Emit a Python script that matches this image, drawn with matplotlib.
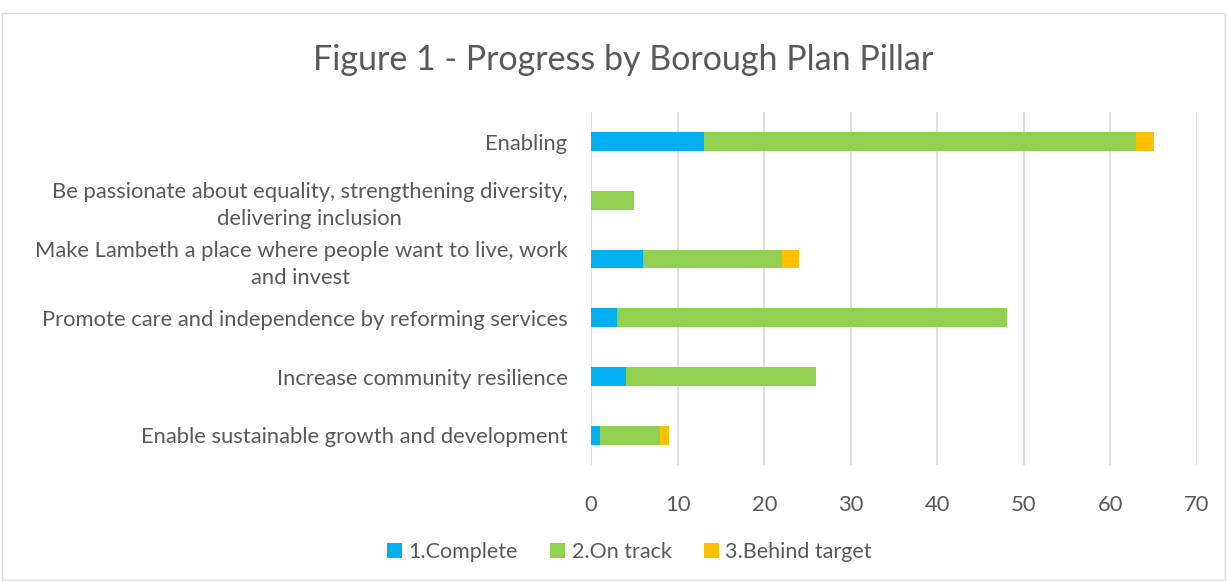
import matplotlib.pyplot as plt
import numpy as np

plt.rcParams['font.family'] = ['Lato', 'DejaVu Sans']

pillars = [
    'Enable sustainable growth and development',
    'Increase community resilience',
    'Promote care and independence by reforming services',
    'Make Lambeth a place where people want to live, work\nand invest',
    'Be passionate about equality, strengthening diversity,\ndelivering inclusion',
    'Enabling',
]
complete = [1, 4, 3, 6, 0, 13]
on_track = [7, 22, 45, 16, 5, 50]
behind = [1, 0, 0, 2, 0, 2]

grey = '#595959'
fig = plt.figure(figsize=(12.27, 5.81), dpi=100)
ax = fig.add_axes([0.4817, 0.2, 0.4939, 0.607])

y = np.arange(len(pillars))
h = 0.32
ax.barh(y, complete, h, color='#00B0F0', label='1.Complete')
ax.barh(y, on_track, h, left=complete, color='#92D050', label='2.On track')
left2 = np.array(complete) + np.array(on_track)
ax.barh(y, behind, h, left=left2, color='#FFC000', label='3.Behind target')

ax.set_xlim(0, 70)
ax.set_ylim(-0.5, len(pillars) - 0.5)
ax.set_xticks(range(0, 71, 10))
ax.set_yticks(y)
ax.set_yticklabels(pillars, multialignment='center', linespacing=1.45)
ax.tick_params(axis='both', length=0, labelsize=15.8, colors=grey)
ax.tick_params(axis='y', pad=17)
ax.tick_params(axis='x', pad=22)
ax.grid(axis='x', color='#D9D9D9', linewidth=1.2)
ax.set_axisbelow(True)
for s in ax.spines.values():
    s.set_visible(False)

fig.suptitle('Figure 1 - Progress by Borough Plan Pillar', x=0.508, y=0.925,
             fontsize=24.5, color=grey)
fig.legend(loc='lower center', ncol=3, frameon=False, fontsize=15.5,
           bbox_to_anchor=(0.513, 0.0), handlelength=0.7, handleheight=0.7,
           columnspacing=1.5, handletextpad=0.3, labelcolor=grey)

fig.add_artist(plt.Rectangle((0.002, 0.002), 0.996, 0.976, transform=fig.transFigure,
                             fill=False, edgecolor='#D9D9D9', linewidth=1))

fig.savefig('out.png', dpi=100)
